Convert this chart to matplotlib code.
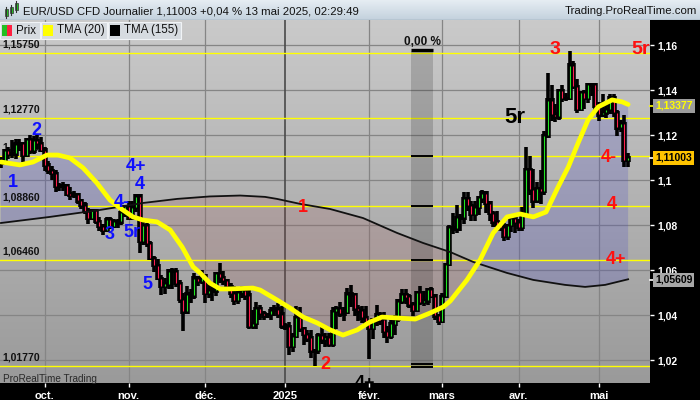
import numpy as np
import pandas as pd
import matplotlib
matplotlib.use("Agg")
import matplotlib.pyplot as plt
from matplotlib.colors import LinearSegmentedColormap
from matplotlib.patches import Rectangle
from matplotlib.lines import Line2D

plt.rcParams['font.family'] = ['Liberation Sans', 'DejaVu Sans']

# ---------------------------------------------------------
# Data (daily EUR/USD bars)
# ---------------------------------------------------------

dates = pd.bdate_range("2024-09-13", "2025-05-13")

closes = [
    # sept
    1.1075, 1.1133, 1.1115, 1.1118, 1.1161, 1.1163, 1.1111, 1.1180, 1.1132, 1.1177, 1.1165, 1.1135,
    # oct
    1.1068, 1.1045, 1.1031, 1.0975, 1.0975, 1.0978, 1.0940, 1.0935, 1.0937, 1.0909, 1.0890, 1.0862,
    1.0832, 1.0867, 1.0817, 1.0797, 1.0780, 1.0827, 1.0796, 1.0816, 1.0816, 1.0856, 1.0883,
    # nov
    1.0833, 1.0880, 1.0930, 1.0728, 1.0800, 1.0719, 1.0654, 1.0622, 1.0565, 1.0529, 1.0540, 1.0597,
    1.0596, 1.0543, 1.0472, 1.0416, 1.0495, 1.0487, 1.0566, 1.0553, 1.0577,
    # dec
    1.0497, 1.0512, 1.0510, 1.0586, 1.0568, 1.0555, 1.0527, 1.0498, 1.0467, 1.0501, 1.0513, 1.0490,
    1.0352, 1.0365, 1.0430, 1.0408, 1.0398, 1.0405, 1.0422, 1.0428, 1.0406, 1.0354,
    # jan
    1.0350, 1.0264, 1.0308, 1.0390, 1.0342, 1.0316, 1.0300, 1.0243, 1.0244, 1.0309, 1.0292, 1.0300,
    1.0273, 1.0418, 1.0431, 1.0407, 1.0414, 1.0495, 1.0492, 1.0430, 1.0421, 1.0390, 1.0362,
    # feb
    1.0344, 1.0380, 1.0404, 1.0380, 1.0330, 1.0308, 1.0362, 1.0383, 1.0464, 1.0492, 1.0482, 1.0447,
    1.0422, 1.0502, 1.0459, 1.0465, 1.0514, 1.0486, 1.0398, 1.0375,
    # mar
    1.0484, 1.0626, 1.0791, 1.0785, 1.0834, 1.0834, 1.0918, 1.0889, 1.0851, 1.0881, 1.0922, 1.0943,
    1.0899, 1.0853, 1.0816, 1.0802, 1.0792, 1.0752, 1.0799, 1.0832, 1.0815,
    # apr
    1.0792, 1.0852, 1.1049, 1.0960, 1.0909, 1.0962, 1.0951, 1.1198, 1.1357, 1.1294, 1.1283, 1.1398,
    1.1365, 1.1365, 1.1512, 1.1418, 1.1315, 1.1390, 1.1364, 1.1424, 1.1425, 1.1328,
    # may
    1.1292, 1.1300, 1.1316, 1.1369, 1.1302, 1.1234, 1.1252, 1.1088, 1.1100,
]

highs = [
    1.1100, 1.1136, 1.1147, 1.1175, 1.1179, 1.1180, 1.1168, 1.1182, 1.1198, 1.1195, 1.1200, 1.1190,
    1.1145, 1.1083, 1.1063, 1.1045, 1.0987, 1.0990, 1.0980, 1.0967, 1.0950, 1.0940, 1.0912, 1.0900,
    1.0874, 1.0870, 1.0867, 1.0833, 1.0805, 1.0835, 1.0835, 1.0825, 1.0826, 1.0869, 1.0885,
    1.0905, 1.0905, 1.0937, 1.0935, 1.0826, 1.0807, 1.0726, 1.0660, 1.0650, 1.0576, 1.0565, 1.0602,
    1.0608, 1.0609, 1.0555, 1.0499, 1.0530, 1.0516, 1.0587, 1.0572, 1.0597,
    1.0566, 1.0538, 1.0544, 1.0591, 1.0630, 1.0594, 1.0557, 1.0540, 1.0526, 1.0522, 1.0530, 1.0513,
    1.0509, 1.0420, 1.0458, 1.0445, 1.0418, 1.0410, 1.0434, 1.0445, 1.0452, 1.0437,
    1.0365, 1.0366, 1.0318, 1.0437, 1.0434, 1.0345, 1.0332, 1.0334, 1.0250, 1.0320, 1.0351, 1.0320,
    1.0320, 1.0434, 1.0437, 1.0455, 1.0433, 1.0521, 1.0533, 1.0492, 1.0445, 1.0440, 1.0437,
    1.0350, 1.0385, 1.0442, 1.0412, 1.0412, 1.0350, 1.0375, 1.0400, 1.0470, 1.0513, 1.0515, 1.0493,
    1.0456, 1.0505, 1.0528, 1.0504, 1.0516, 1.0525, 1.0486, 1.0405,
    1.0497, 1.0630, 1.0800, 1.0854, 1.0888, 1.0847, 1.0947, 1.0947, 1.0906, 1.0907, 1.0926, 1.0955,
    1.0940, 1.0905, 1.0862, 1.0860, 1.0817, 1.0810, 1.0802, 1.0842, 1.0833,
    1.0825, 1.0880, 1.1144, 1.1107, 1.1050, 1.0990, 1.1045, 1.1215, 1.1473, 1.1420, 1.1335, 1.1404,
    1.1420, 1.1385, 1.1573, 1.1526, 1.1450, 1.1395, 1.1400, 1.1425, 1.1430, 1.1427,
    1.1347, 1.1380, 1.1346, 1.1380, 1.1380, 1.1310, 1.1266, 1.1290, 1.1120,
]

lows = [
    1.1060, 1.1071, 1.1100, 1.1101, 1.1098, 1.1136, 1.1083, 1.1107, 1.1122, 1.1120, 1.1142, 1.1132,
    1.1045, 1.1033, 1.1007, 1.0951, 1.0954, 1.0956, 1.0933, 1.0915, 1.0925, 1.0900, 1.0874, 1.0855,
    1.0811, 1.0826, 1.0810, 1.0777, 1.0761, 1.0780, 1.0789, 1.0792, 1.0791, 1.0806, 1.0842,
    1.0826, 1.0850, 1.0863, 1.0682, 1.0718, 1.0709, 1.0648, 1.0596, 1.0560, 1.0495, 1.0500, 1.0521,
    1.0522, 1.0530, 1.0460, 1.0335, 1.0424, 1.0460, 1.0478, 1.0536, 1.0541,
    1.0460, 1.0480, 1.0469, 1.0490, 1.0548, 1.0538, 1.0510, 1.0480, 1.0450, 1.0453, 1.0480, 1.0470,
    1.0345, 1.0343, 1.0343, 1.0385, 1.0385, 1.0395, 1.0383, 1.0399, 1.0390, 1.0342,
    1.0340, 1.0226, 1.0240, 1.0310, 1.0330, 1.0272, 1.0285, 1.0214, 1.0178, 1.0232, 1.0278, 1.0265,
    1.0265, 1.0264, 1.0341, 1.0395, 1.0380, 1.0415, 1.0440, 1.0400, 1.0380, 1.0370, 1.0355,
    1.0210, 1.0300, 1.0355, 1.0362, 1.0305, 1.0280, 1.0300, 1.0315, 1.0375, 1.0455, 1.0455, 1.0437,
    1.0400, 1.0420, 1.0450, 1.0446, 1.0450, 1.0480, 1.0385, 1.0360,
    1.0380, 1.0480, 1.0622, 1.0763, 1.0770, 1.0780, 1.0809, 1.0868, 1.0822, 1.0823, 1.0850, 1.0903,
    1.0860, 1.0822, 1.0797, 1.0780, 1.0780, 1.0733, 1.0740, 1.0775, 1.0768,
    1.0777, 1.0780, 1.0851, 1.0940, 1.0880, 1.0905, 1.0900, 1.0940, 1.1190, 1.1265, 1.1264, 1.1270,
    1.1350, 1.1355, 1.1380, 1.1410, 1.1303, 1.1310, 1.1320, 1.1346, 1.1380, 1.1315,
    1.1265, 1.1290, 1.1280, 1.1300, 1.1287, 1.1200, 1.1220, 1.1065, 1.1065,
]

# each bar opens where the previous one closed
opens = [1.1077] + closes[:-1]

# TMA(20) / TMA(155) (bar index, price)
tma20_idx = [0, 5.2, 8.8, 12.6, 15.6, 18.9, 22.5, 26.3, 29.9, 32.6, 36.2, 39.0, 42.8, 46.4,
             49.7, 52.7, 54.6, 57.3, 60.1, 62.8, 69.1, 71.1, 75.7, 79.3, 82.9, 86.7, 90.3,
             93.8, 97.7, 101.2, 104.5, 108.6, 113.6, 117.7, 121.3, 123.2, 127.8, 131.4,
             135.0, 138.8, 142.4, 146.0, 149.5, 152.8, 155.6, 158.3, 161.0, 163.8, 167.6,
             170.4, 172.0]
tma20_val = [1.1082, 1.1069, 1.1082, 1.1113, 1.1113, 1.1100, 1.1056, 1.0989, 1.0913, 1.0878,
             1.0838, 1.0824, 1.0816, 1.0780, 1.0704, 1.0616, 1.0589, 1.0544, 1.0518, 1.0518,
             1.0522, 1.0513, 1.0469, 1.0433, 1.0393, 1.0367, 1.0336, 1.0313, 1.0336, 1.0371,
             1.0393, 1.0389, 1.0384, 1.0411, 1.0438, 1.0464, 1.0558, 1.0647, 1.0767, 1.0838,
             1.0851, 1.0838, 1.0860, 1.0971, 1.1060, 1.1167, 1.1269, 1.1327, 1.1358, 1.1349,
             1.13377]

tma155_idx = [0, 13.4, 27.2, 39.0, 48.3, 57.3, 65.6, 72.4, 75.7, 82.0, 90.3, 99.3, 108.6,
              115.8, 123.2, 129.5, 138.8, 146.0, 154.7, 160.2, 165.7, 172.0]
tma155_val = [1.0811, 1.0838, 1.0869, 1.0900, 1.0918, 1.0929, 1.0933, 1.0927, 1.0918, 1.0896,
              1.0873, 1.0833, 1.0767, 1.0722, 1.0682, 1.0638, 1.0589, 1.0558, 1.0536, 1.0527,
              1.0536, 1.05609]

# horizontal levels drawn by the user
levels = [1.1568, 1.1277, 1.1108, 1.0886, 1.0646, 1.0177]
level_labels = ["1,15750", "1,12770", "1,11080", "1,08860", "1,06460", "1,01770"]

# wave counts
wave_text = ["1", "2", "4+", "4", "4-", "3", "5r", "5",
             "1", "2", "3", "5r", "4-", "4", "4+", "5r", "4+"]
wave_idx = [3.3, 9.6, 37.0, 38.1, 33.2, 29.9, 35.9, 40.1,
            82.9, 88.9, 152.0, 175.3, 166.8, 167.4, 168.7, 141.0, 99.9]
wave_val = [1.0989, 1.1224, 1.1060, 1.0984, 1.0904, 1.0758, 1.0767, 1.0536,
            1.0882, 1.0184, 1.1580, 1.1580, 1.1104, 1.0891, 1.0647, 1.1278, 1.0096]
wave_color = ["#1010ff"] * 8 + ["#ff1010"] * 7 + ["#000000"] * 2
wave_size = [13] * 8 + [13, 13, 14, 14, 13, 13, 13, 16, 13]

y_ticks = [1.02, 1.04, 1.06, 1.08, 1.10, 1.12, 1.14, 1.16]
y_tick_labels = ["1,02", "1,04", "1,06", "1,08", "1,1", "1,12", "1,14", "1,16"]

month_starts = ["2024-10-01", "2024-11-01", "2024-12-01", "2025-01-01",
                "2025-02-01", "2025-03-01", "2025-04-01", "2025-05-01"]
month_labels = ["oct.", "nov.", "déc.", "2025", "févr.", "mars", "avr.", "mai"]

# ---------------------------------------------------------
# Figure
# ---------------------------------------------------------

W, H = 700, 400

def fx(px):
    return px / W

def fy(py):
    return 1 - py / H

fig = plt.figure(figsize=(7, 4), dpi=100, facecolor="black")
ax = fig.add_axes([0, fy(383), fx(650), 363 / H])

xmin, xmax = -0.27, 178.0
ymin, ymax = 1.01, 1.1713

bg = LinearSegmentedColormap.from_list("bg", ["#9a9a9a", "#cacaca"])
ax.imshow(np.linspace(0, 1, 256).reshape(-1, 1), extent=[0, 1, 0, 1],
          transform=ax.transAxes, cmap=bg, aspect="auto", origin="lower", zorder=0)

for s in ax.spines.values():
    s.set_visible(False)

# grid
month_pos = [int(np.argmax(dates >= pd.Timestamp(m))) for m in month_starts]
for yt in y_ticks:
    ax.axhline(yt, color="#858585", lw=0.9, zorder=1)
for mp, lab in zip(month_pos, month_labels):
    ax.axvline(mp, color="#4a4a4a" if lab == "2025" else "#858585",
               lw=1.2 if lab == "2025" else 0.9, zorder=1)

# fill between the two averages
grid = np.linspace(0, len(closes) - 1, 1200)
m20 = np.interp(grid, tma20_idx, tma20_val)
m155 = np.interp(grid, tma155_idx, tma155_val)
ax.fill_between(grid, m20, m155, where=m20 >= m155, interpolate=True,
                color="#3c3cc8", alpha=0.2, lw=0, zorder=2)
ax.fill_between(grid, m20, m155, where=m20 < m155, interpolate=True,
                color="#a04848", alpha=0.16, lw=0, zorder=2)

# user levels
for lv, lab in zip(levels, level_labels):
    ax.axhline(lv, color="#ffff00", lw=1.0, zorder=2.5)
    ax.text(0.004, lv + 0.0024, lab, transform=ax.get_yaxis_transform(),
            fontsize=7.5, fontweight="bold", color="#111111", ha="left",
            va="baseline", zorder=2.6)

# variation band "0,00 %"
band_l, band_r = 112.5, 118.6
ax.add_patch(Rectangle((band_l, 1.0177), band_r - band_l, 1.1577 - 1.0177,
                       color="black", alpha=0.16, lw=0, zorder=3))
ax.hlines([1.1108, 1.0886, 1.0646, 1.0184, 1.0170], band_l, band_r,
          color="black", lw=1.4, zorder=6)
ax.hlines([1.1580], band_l, band_r, color="black", lw=2.4, zorder=6)
ax.text((band_l + band_r) / 2, 1.1617, "0,00 %", fontsize=8.5, fontweight="bold",
        color="#111111", ha="center", va="center", zorder=7)

# candles
x = np.arange(len(closes))
o = np.array(opens)
c = np.array(closes)
h = np.array(highs)
l = np.array(lows)
ax.vlines(x, l - 0.0003, h + 0.0003, color="black", lw=2.6, zorder=4)
ax.vlines(x, np.minimum(o, c) - 0.0008, np.maximum(o, c) + 0.0008,
          color="black", lw=4.0, zorder=4)
up = c >= o
lo_b = np.minimum(o, c) + 0.0002
hi_b = np.maximum(o, c) - 0.0002
ok = hi_b > lo_b
ax.vlines(x[ok & up], lo_b[ok & up], hi_b[ok & up], color="#22e622", lw=0.8, zorder=5)
ax.vlines(x[ok & ~up], lo_b[ok & ~up], hi_b[ok & ~up], color="#ff2050", lw=0.8, zorder=5)

# moving averages
ax.plot(tma155_idx, tma155_val, color="#111111", lw=1.3, zorder=6)
ax.plot(tma20_idx, tma20_val, color="#ffff00", lw=3.4, zorder=7,
        solid_capstyle="round", solid_joinstyle="round")

# wave labels (the last one sits on the bottom edge and is cut by it)
for t, wi, wv, col, sz in zip(wave_text, wave_idx, wave_val, wave_color, wave_size):
    ax.text(wi, wv, t, color=col, fontsize=sz, fontweight="bold",
            ha="center", va="center", zorder=8, clip_on=True)

ax.text(0.004, 1.0118, "ProRealTime Trading", transform=ax.get_yaxis_transform(),
        fontsize=7.2, color="#2a2a2a", ha="left", va="center", zorder=8)

ax.set_xlim(xmin, xmax)
ax.set_ylim(ymin, ymax)

# axes ticks
ax.yaxis.tick_right()
ax.set_yticks(y_ticks)
ax.set_yticklabels(y_tick_labels)
ax.set_xticks(month_pos)
ax.set_xticklabels(month_labels)
ax.tick_params(axis="y", colors="white", length=3, width=1, pad=2, labelsize=7.5)
ax.tick_params(axis="x", colors="white", length=3, width=1, pad=2.5, labelsize=8)
for t in ax.get_yticklabels() + ax.get_xticklabels():
    t.set_fontweight("bold")

# right side value boxes
def value_box(py, text, fc, tc, tick):
    fig.add_artist(Line2D([fx(650), fx(654)], [fy(py), fy(py)], color=tick, lw=1.2,
                          transform=fig.transFigure))
    fig.text(fx(655), fy(py), text, fontsize=7.5, fontweight="bold", color=tc,
             ha="left", va="center",
             bbox=dict(boxstyle="square,pad=0.18", fc=fc, ec="none"))

value_box(106, "1,13377", "#9c9c9c", "#ffff00", "#ffff00")
value_box(158, "1,11003", "#ffc400", "#000000", "white")
value_box(280, "1,05609", "#a8a8a8", "#000000", "white")

# ---------------------------------------------------------
# Header bar
# ---------------------------------------------------------

hax = fig.add_axes([0, fy(20), 1, 20 / H])
hdr = LinearSegmentedColormap.from_list("hdr", ["#c3d1dd", "#e6edf3"])
hax.imshow(np.linspace(0, 1, 64).reshape(-1, 1), extent=[0, W, 20, 0],
           cmap=hdr, aspect="auto", origin="lower")
hax.set_xlim(0, W)
hax.set_ylim(20, 0)
hax.axis("off")
hax.axhline(19.5, color="#8a9aa8", lw=1)

# little candle icon
for cx, y0, y1, col in [(6, 9, 16, "#22c022"), (11, 7, 13, "#22c022"), (16, 3, 10, "#22c022")]:
    hax.plot([cx, cx], [y0 - 2, y1 + 2], color="#333333", lw=0.8)
    hax.add_patch(Rectangle((cx - 1.5, y0), 3, y1 - y0, fc=col, ec="#333333", lw=0.5))

hax.text(23, 11, "EUR/USD CFD Journalier 1,11003 +0,04 % 13 mai 2025, 02:29:49",
         fontsize=8.2, color="#111111", ha="left", va="center")
hax.text(697, 11, "Trading.ProRealTime.com", fontsize=8.2, color="#111111",
         ha="right", va="center")

# legend boxes
legend_items = [("Prix", 0, 40), ("TMA (20)", 41, 107), ("TMA (155)", 108, 181)]
legend_colors = [None, "#ffff00", "#000000"]
for (lab, x0, x1), col in zip(legend_items, legend_colors):
    fig.add_artist(Rectangle((fx(x0), fy(39)), fx(x1 - x0), 17 / H, fc="#d6dbe0",
                             ec="#f0f3f6", lw=0.8, transform=fig.transFigure, zorder=9))
    if col is None:
        fig.add_artist(Rectangle((fx(x0 + 2), fy(36)), fx(5), 11 / H, fc="#22c022",
                                 ec="none", transform=fig.transFigure, zorder=10))
        fig.add_artist(Rectangle((fx(x0 + 7), fy(36)), fx(5), 11 / H, fc="#ff2040",
                                 ec="none", transform=fig.transFigure, zorder=10))
    else:
        fig.add_artist(Rectangle((fx(x0 + 2), fy(36)), fx(10), 11 / H, fc=col,
                                 ec="none", transform=fig.transFigure, zorder=10))
    fig.text(fx(x0 + 16), fy(30.5), lab, fontsize=8.3, color="#111111",
             ha="left", va="center", zorder=11)

fig.savefig("out.png", dpi=100, facecolor=fig.get_facecolor())
